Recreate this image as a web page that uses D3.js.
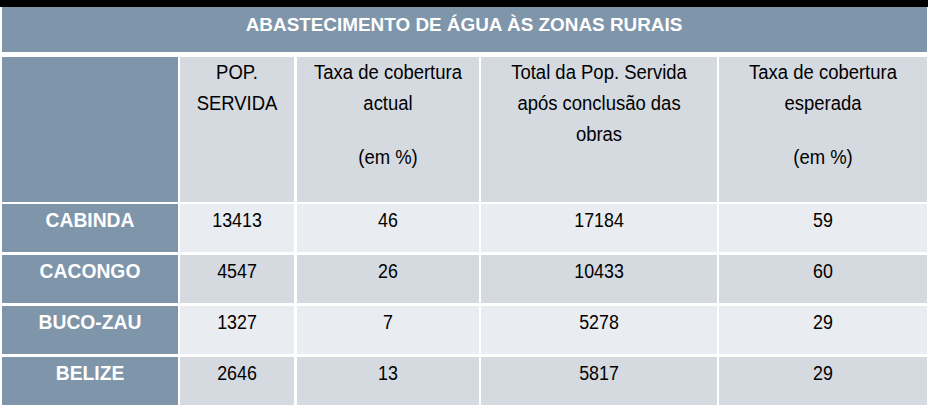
<!DOCTYPE html>
<meta charset="utf-8">
<script src="https://d3js.org/d3.v7.min.js"></script>
<style>
  body { margin: 0; background: #fff; }
  text { font-family: "Liberation Sans", Arial, sans-serif; }
</style>
<svg id="tbl" width="928" height="406"></svg>
<script>
  // table contents
  var title = "ABASTECIMENTO DE ÁGUA ÀS ZONAS RURAIS";
  var regions = ["CABINDA", "CACONGO", "BUCO-ZAU", "BELIZE"];
  var popServida = [13413, 4547, 1327, 2646];
  var taxaActual = [46, 26, 7, 13];
  var totalApos = [17184, 10433, 5278, 5817];
  var taxaEsperada = [59, 60, 29, 29];
  var headers = [
    [],
    ["POP.", "SERVIDA"],
    ["Taxa de cobertura", "actual", "", "(em %)"],
    ["Total da Pop. Servida", "após conclusão das", "obras"],
    ["Taxa de cobertura", "esperada", "", "(em %)"]
  ];
  var columns = [regions, popServida, taxaActual, totalApos, taxaEsperada];

  var svg = d3.select('#tbl');
  var dark = '#7f95aa', light = '#e9ecf0', mid = '#d5dae1';

  // column cells (left, right) -- layout only
  var colX = d3.scaleOrdinal().domain(d3.range(5))
    .range([[2, 178], [180, 294], [297, 479], [481, 717], [719, 927]]);
  var rowY = d3.scaleBand().domain(regions).range([204, 405]).paddingInner(3 / 51);

  // black strip at top
  svg.append('rect').attr('x', 0).attr('y', 0).attr('width', 928).attr('height', 7).attr('fill', '#000');

  // title band
  svg.append('rect').attr('x', 2).attr('y', 7).attr('width', 925).attr('height', 45).attr('fill', dark);
  svg.append('text').attr('transform', 'translate(464,31)')
    .attr('text-anchor', 'middle').attr('font-size', 18.9).attr('font-weight', 'bold')
    .attr('fill', '#fff').text(title);

  // header row
  var hdr = svg.append('g').selectAll('g').data(headers).enter().append('g');
  hdr.append('rect')
    .attr('x', function(d, i) { return colX(i)[0]; })
    .attr('y', 57)
    .attr('width', function(d, i) { return colX(i)[1] - colX(i)[0]; })
    .attr('height', 145)
    .attr('fill', function(d, i) { return i === 0 ? dark : mid; });
  var lineY = [79, 110, 141, 164];
  hdr.each(function(lines, i) {
    var cx = (colX(i)[0] + colX(i)[1]) / 2;
    d3.select(this).selectAll('text').data(lines).enter().append('text')
      .attr('transform', function(t, j) { return 'translate(' + cx + ',' + lineY[j] + ') scale(0.88,1)'; })
      .attr('text-anchor', 'middle').attr('font-size', 21).attr('fill', '#000')
      .text(function(t) { return t; });
  });

  // body rows
  var rows = svg.append('g').selectAll('g').data(regions).enter().append('g');
  rows.each(function(r, ri) {
    var g = d3.select(this);
    var y0 = rowY(r);
    columns.forEach(function(col, ci) {
      g.append('rect')
        .attr('x', colX(ci)[0]).attr('y', y0)
        .attr('width', colX(ci)[1] - colX(ci)[0]).attr('height', rowY.bandwidth())
        .attr('fill', ci === 0 ? dark : (ri % 2 === 0 ? light : mid));
      var cx = (colX(ci)[0] + colX(ci)[1]) / 2;
      g.append('text')
        .attr('transform', 'translate(' + cx + ',' + (y0 + 23) + ') scale(' + (ci === 0 ? 0.92 : 0.85) + ',1)')
        .attr('text-anchor', 'middle').attr('font-size', 21)
        .attr('font-weight', ci === 0 ? 'bold' : 'normal')
        .attr('fill', ci === 0 ? '#fff' : '#000')
        .text(col[ri]);
    });
  });
</script>
